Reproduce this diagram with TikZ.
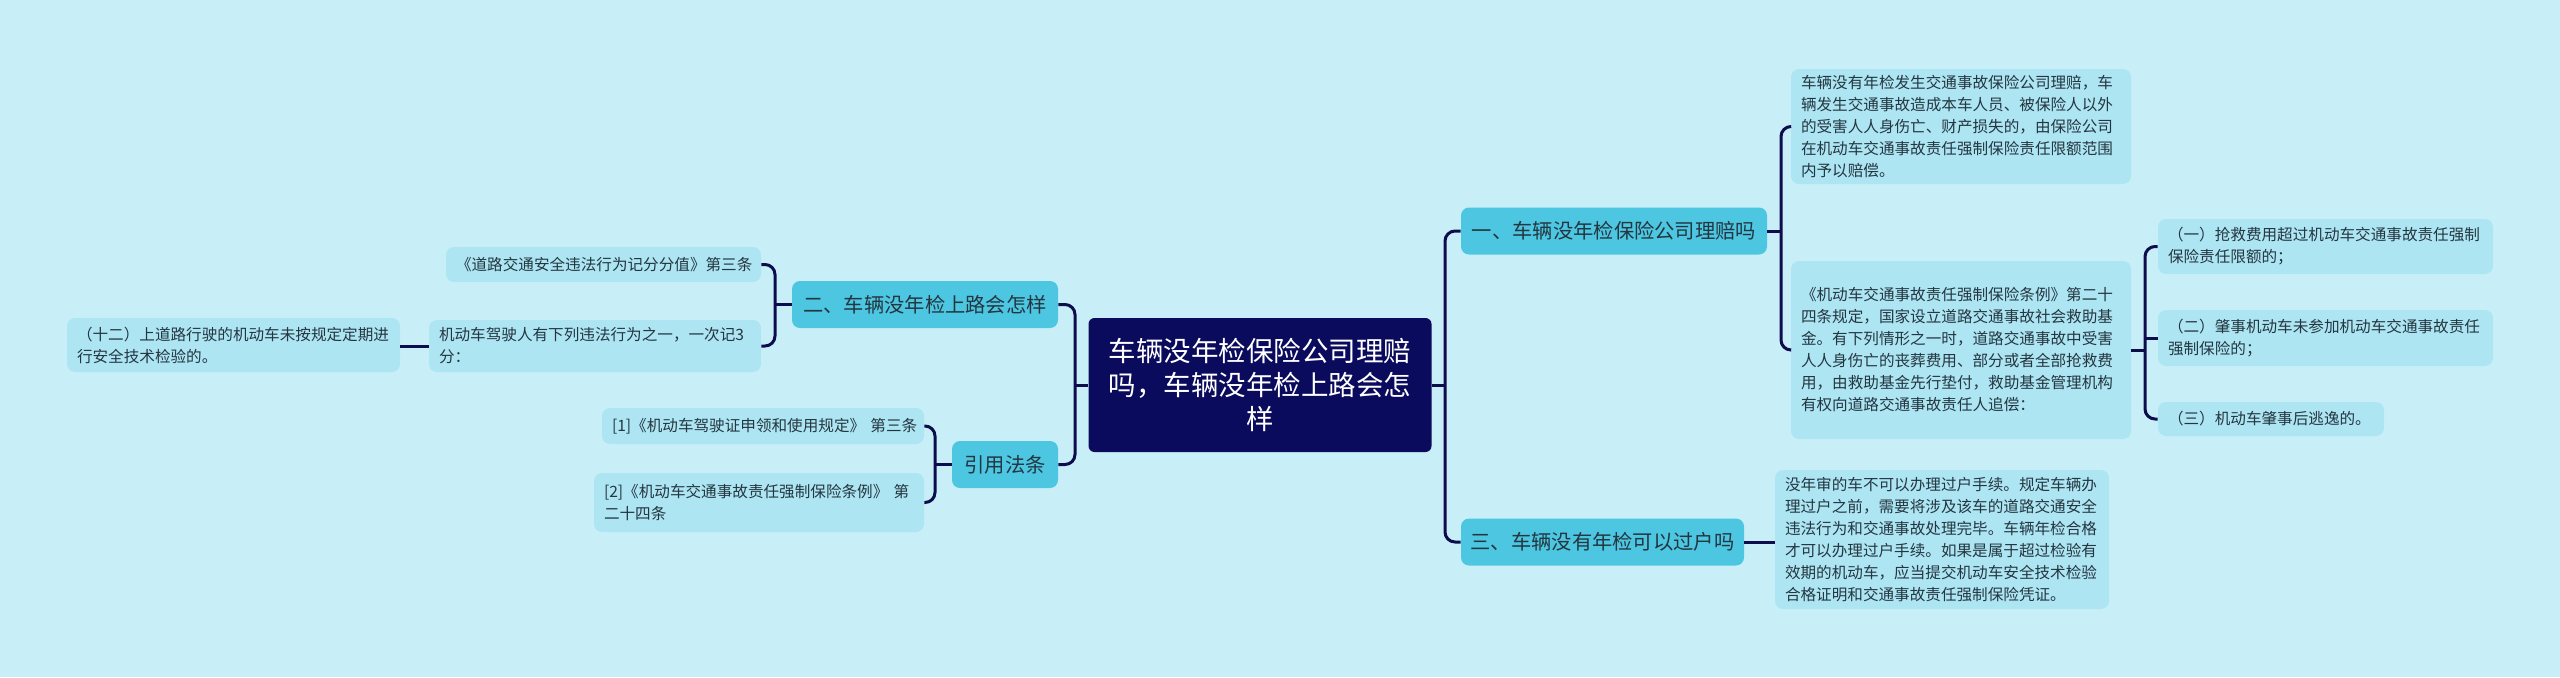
\documentclass[tikz,border=0pt]{standalone}
\usepackage{fontspec}
\setmainfont{Noto Sans CJK SC}
\definecolor{bgcol}{HTML}{C8EFF8}
\definecolor{rootcol}{HTML}{0B0B5E}
\definecolor{topiccol}{HTML}{4CC6E1}
\definecolor{leafcol}{HTML}{ADE5F3}
\definecolor{linkcol}{HTML}{0D0D4D}
\definecolor{txtcol}{HTML}{243640}
\begin{document}
\begin{tikzpicture}[x=0.5pt,y=-0.5pt]
        \tikzset{
          root/.style={fill=rootcol, text=white, rounded corners=3pt, align=center, inner sep=0pt,
            font=\fontsize{13.75}{17}\selectfont},
          topic/.style={fill=topiccol, text=txtcol, rounded corners=4pt, inner sep=0pt, minimum height=23.5pt,
            font=\fontsize{10.15}{12}\selectfont},
          leaf/.style={fill=leafcol, text=txtcol, rounded corners=4pt, align=left, inner xsep=5pt, inner ysep=0pt,
            font=\fontsize{7.8}{11}\selectfont},
          link/.style={draw=linkcol, line width=1.5pt, rounded corners=5pt}
        }
        \fill[bgcol] (0,0) rectangle (2560,677);

        % — centre and main topics —
        \node[root, minimum width=171.5pt, minimum height=67pt] (root) at (1260,385)
          {车辆没年检保险公司理赔\\吗，车辆没年检上路会怎\\样};
        \node[topic, minimum width=153pt]   (t1) at (1614,231)   {一、车辆没年检保险公司理赔吗};
        \node[topic, minimum width=141.5pt] (t3) at (1602.5,542) {三、车辆没有年检可以过户吗};
        \node[topic, minimum width=133pt]   (t2) at (925,304.5)  {二、车辆没年检上路会怎样};
        \node[topic, minimum width=53pt]    (t4) at (1005,464.5) {引用法条};

        % — right side leaves —
        \node[leaf, text width=160pt, minimum height=57.5pt] (a1) at (1961,126.5)
          {车辆没有年检发生交通事故保险公司理赔，车\\辆发生交通事故造成本车人员、被保险人以外\\的受害人人身伤亡、财产损失的，由保险公司\\在机动车交通事故责任强制保险责任限额范围\\内予以赔偿。};
        \node[leaf, text width=160pt, minimum height=89pt] (a2) at (1961,350)
          {《机动车交通事故责任强制保险条例》第二十\\四条规定，国家设立道路交通事故社会救助基\\金。有下列情形之一时，道路交通事故中受害\\人人身伤亡的丧葬费用、部分或者全部抢救费\\用，由救助基金先行垫付，救助基金管理机构\\有权向道路交通事故责任人追偿：};
        \node[leaf, text width=157.5pt, minimum height=27.5pt] (b1) at (2325.5,246.5)
          {（一）抢救费用超过机动车交通事故责任强制\\保险责任限额的；};
        \node[leaf, text width=157.5pt, minimum height=28pt] (b2) at (2325.5,338)
          {（二）肇事机动车未参加机动车交通事故责任\\强制保险的；};
        \node[leaf, text width=103pt, minimum height=17pt] (b3) at (2271,419)
          {（三）机动车肇事后逃逸的。};
        \node[leaf, text width=157pt, minimum height=69.5pt] (a3) at (1942,539.5)
          {没年审的车不可以办理过户手续。规定车辆办\\理过户之前，需要将涉及该车的道路交通安全\\违法行为和交通事故处理完毕。车辆年检合格\\才可以办理过户手续。如果是属于超过检验有\\效期的机动车，应当提交机动车安全技术检验\\合格证明和交通事故责任强制保险凭证。};

        % — left side leaves —
        \node[leaf, text width=147.5pt, minimum height=17.5pt] (l1) at (603.5,264.5)
          {《道路交通安全违法行为记分分值》第三条};
        \node[leaf, text width=156pt, minimum height=26pt] (l2) at (595,346)
          {机动车驾驶人有下列违法行为之一，一次记3\\分：};
        \node[leaf, text width=156.5pt, minimum height=27pt] (l3) at (233.5,345)
          {（十二）上道路行驶的机动车未按规定定期进\\行安全技术检验的。};
        \node[leaf, text width=151pt, minimum height=18pt] (c1) at (763,426)
          {\mbox{[1]《机动车驾驶证申领和使用规定》 第三条}};
        \node[leaf, text width=155pt, minimum height=29.5pt] (c2) at (759,502.5)
          {[2]《机动车交通事故责任强制保险条例》 第\\二十四条};

        % — junctions —
        \coordinate (jr) at (1445,385);
        \coordinate (jl) at (1075,385);
        \coordinate (j1) at (1781,231);
        \coordinate (j2) at (2145,350);
        \coordinate (j3) at (775,304.5);
        \coordinate (j4) at (935,464.5);

        % — connectors —
        \draw[link] (root.east) -- (jr);
        \draw[link] (t1.west) -| (jr) |- (t3.west);
        \draw[link] (root.west) -- (jl);
        \draw[link] (t2.east) -| (jl) |- (t4.east);
        \draw[link] (t1.east) -- (j1);
        \draw[link] (a1.west) -| (j1) |- (a2.west);
        \draw[link] (a2.east) -- (j2);
        \draw[link] (b1.west) -| (j2) |- (b3.west);
        \draw[link] (b2.west) -- (b2.west -| j2);
        \draw[link] (t3.east) -- (a3.west |- t3.east);
        \draw[link] (t2.west) -- (j3);
        \draw[link] (l1.east) -| (j3) |- (l2.east);
        \draw[link] (l2.west) -- (l3.east |- l2.west);
        \draw[link] (t4.west) -- (j4);
        \draw[link] (c1.east) -| (j4) |- (c2.east);
\end{tikzpicture}
\end{document}
